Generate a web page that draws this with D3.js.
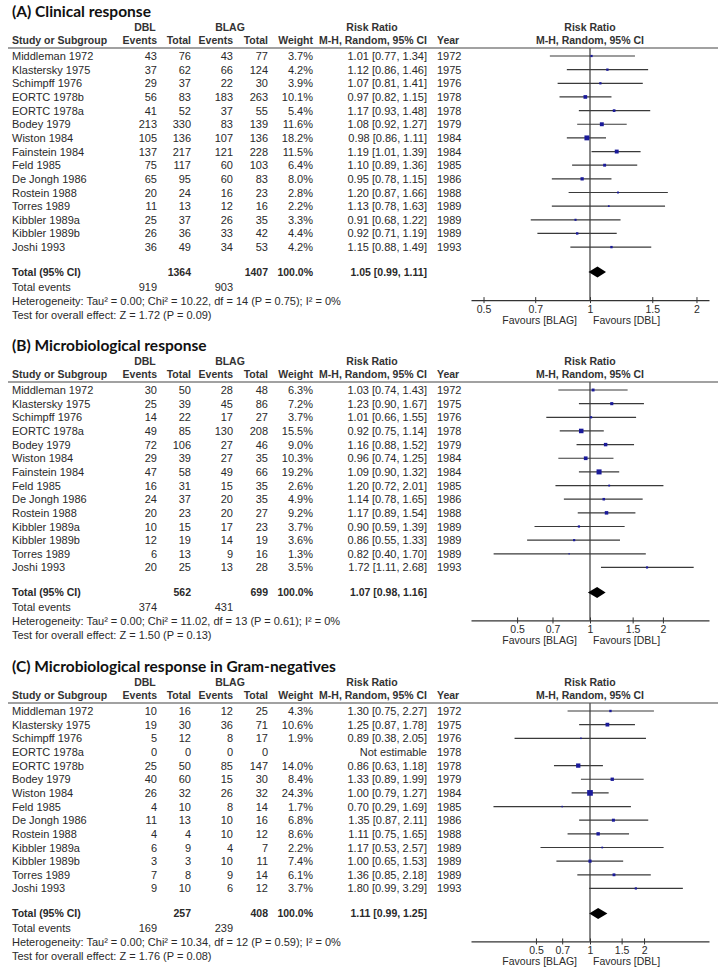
<!DOCTYPE html>
<html><head><meta charset="utf-8">
<script src="https://cdn.jsdelivr.net/npm/d3@7"></script>
<style>body{margin:0;background:#fff}svg{display:block}</style>
</head><body><svg id="c" width="720" height="975"></svg>
<script>
// ---------- Panel A: Clinical response ----------
const studiesA = ["Middleman 1972","Klastersky 1975","Schimpff 1976","EORTC 1978b","EORTC 1978a","Bodey 1979","Wiston 1984","Fainstein 1984","Feld 1985","De Jongh 1986","Rostein 1988","Torres 1989","Kibbler 1989a","Kibbler 1989b","Joshi 1993"];
const yearsA   = [1972,1975,1976,1978,1978,1979,1984,1984,1985,1986,1988,1989,1989,1989,1993];
const dblEvA   = [43,37,29,56,41,213,105,137,75,65,20,11,25,26,36];
const dblTotA  = [76,62,37,83,52,330,136,217,117,95,24,13,37,36,49];
const blagEvA  = [43,66,22,183,37,83,107,121,60,60,16,12,26,33,34];
const blagTotA = [77,124,30,263,55,139,136,228,103,83,23,16,35,42,53];
const weightA  = [3.7,4.2,3.9,10.1,5.4,11.6,18.2,11.5,6.4,8.0,2.8,2.2,3.3,4.4,4.2];
const rrA      = [1.01,1.12,1.07,0.97,1.17,1.08,0.98,1.19,1.10,0.95,1.20,1.13,0.91,0.92,1.15];
const loA      = [0.77,0.86,0.81,0.82,0.93,0.92,0.86,1.01,0.89,0.78,0.87,0.78,0.68,0.71,0.88];
const hiA      = [1.34,1.46,1.41,1.15,1.48,1.27,1.11,1.39,1.36,1.15,1.66,1.63,1.22,1.19,1.49];
const totalA   = {dblTot:1364, blagTot:1407, rr:1.05, lo:0.99, hi:1.11, dblEv:919, blagEv:903,
  het:"Heterogeneity: Tau² = 0.00; Chi² = 10.22, df = 14 (P = 0.75); I² = 0%", z:"Test for overall effect: Z = 1.72 (P = 0.09)"};
const axisMaxA = 2.17;

// ---------- Panel B: Microbiological response ----------
const studiesB = ["Middleman 1972","Klastersky 1975","Schimpff 1976","EORTC 1978a","Bodey 1979","Wiston 1984","Fainstein 1984","Feld 1985","De Jongh 1986","Rostein 1988","Kibbler 1989a","Kibbler 1989b","Torres 1989","Joshi 1993"];
const yearsB   = [1972,1975,1976,1978,1979,1984,1984,1985,1986,1988,1989,1989,1989,1993];
const dblEvB   = [30,25,14,49,72,29,47,16,24,20,10,12,6,20];
const dblTotB  = [50,39,22,85,106,39,58,31,37,23,15,19,13,25];
const blagEvB  = [28,45,17,130,27,27,49,15,20,20,17,14,9,13];
const blagTotB = [48,86,27,208,46,35,66,35,35,27,23,19,16,28];
const weightB  = [6.3,7.2,3.7,15.5,9.0,10.3,19.2,2.6,4.9,9.2,3.7,3.6,1.3,3.5];
const rrB      = [1.03,1.23,1.01,0.92,1.16,0.96,1.09,1.20,1.14,1.17,0.90,0.86,0.82,1.72];
const loB      = [0.74,0.90,0.66,0.75,0.88,0.74,0.90,0.72,0.78,0.89,0.59,0.55,0.40,1.11];
const hiB      = [1.43,1.67,1.55,1.14,1.52,1.25,1.32,2.01,1.65,1.54,1.39,1.33,1.70,2.68];
const totalB   = {dblTot:562, blagTot:699, rr:1.07, lo:0.98, hi:1.16, dblEv:374, blagEv:431,
  het:"Heterogeneity: Tau² = 0.00; Chi² = 11.02, df = 13 (P = 0.61); I² = 0%", z:"Test for overall effect: Z = 1.50 (P = 0.13)"};
const axisMaxB = 3.1;

// ---------- Panel C: Microbiological response in Gram-negatives ----------
const studiesC = ["Middleman 1972","Klastersky 1975","Schimpff 1976","EORTC 1978a","EORTC 1978b","Bodey 1979","Wiston 1984","Feld 1985","De Jongh 1986","Rostein 1988","Kibbler 1989a","Kibbler 1989b","Torres 1989","Joshi 1993"];
const yearsC   = [1972,1975,1976,1978,1978,1979,1984,1985,1986,1988,1989,1989,1989,1993];
const dblEvC   = [10,19,5,0,25,40,26,4,11,4,6,3,7,9];
const dblTotC  = [16,30,12,0,50,60,32,10,13,4,9,3,8,10];
const blagEvC  = [12,36,8,0,85,15,26,8,10,10,4,10,9,6];
const blagTotC = [25,71,17,0,147,30,32,14,16,12,7,11,14,12];
const weightC  = [4.3,10.6,1.9,null,14.0,8.4,24.3,1.7,6.8,8.6,2.2,7.4,6.1,3.7];
const rrC      = [1.30,1.25,0.89,null,0.86,1.33,1.00,0.70,1.35,1.11,1.17,1.00,1.36,1.80];
const loC      = [0.75,0.87,0.38,null,0.63,0.89,0.79,0.29,0.87,0.75,0.53,0.65,0.85,0.99];
const hiC      = [2.27,1.78,2.05,null,1.18,1.99,1.27,1.69,2.11,1.65,2.57,1.53,2.18,3.29];
const totalC   = {dblTot:257, blagTot:408, rr:1.11, lo:0.99, hi:1.25, dblEv:169, blagEv:239,
  het:"Heterogeneity: Tau² = 0.00; Chi² = 10.34, df = 12 (P = 0.59); I² = 0%", z:"Test for overall effect: Z = 1.76 (P = 0.08)"};
const axisMaxC = 4.6;

const tickValues = [0.5, 0.7, 1, 1.5, 2];
const tickLabels = ["0.5", "0.7", "1", "1.5", "2"];

const panels = [
  {title:"(A) Clinical response", base:48, studies:studiesA, years:yearsA, dblEv:dblEvA, dblTot:dblTotA, blagEv:blagEvA, blagTot:blagTotA, weight:weightA, rr:rrA, lo:loA, hi:hiA, total:totalA, axisMax:axisMaxA},
  {title:"(B) Microbiological response", base:382, studies:studiesB, years:yearsB, dblEv:dblEvB, dblTot:dblTotB, blagEv:blagEvB, blagTot:blagTotB, weight:weightB, rr:rrB, lo:loB, hi:hiB, total:totalB, axisMax:axisMaxB},
  {title:"(C) Microbiological response in Gram-negatives", base:703, studies:studiesC, years:yearsC, dblEv:dblEvC, dblTot:dblTotC, blagEv:blagEvC, blagTot:blagTotC, weight:weightC, rr:rrC, lo:loC, hi:hiC, total:totalC, axisMax:axisMaxC}
];

const svg = d3.select("#c");
const FONT = "'Liberation Sans', Arial, sans-serif";
const TXT = "#2a2a2a";
const col = {study:12, dblEv:157, dblTot:191, blagEv:233, blagTot:268, weight:313, rr:427, year:437};
const plotLeft = 471, plotRight = 709;
const rowStep = 13.65;

function text(g, x, y, s, opts={}) {
  return g.append("text").attr("x", x).attr("y", y).text(s)
    .attr("font-family", opts.family || FONT)
    .attr("font-size", opts.size || 11)
    .attr("font-weight", opts.bold ? 700 : 400)
    .attr("fill", opts.fill || TXT)
    .attr("text-anchor", opts.anchor || "start")
    .attr("dominant-baseline", "central");
}

panels.forEach(p => {
  const g = svg.append("g");
  const base = p.base;
  const n = p.studies.length;
  const rowY = i => base + 8 + i * rowStep;
  const totalY = rowY(n - 1) + 25;
  const axisY = totalY + 28;
  const x = d3.scaleLog().domain([1 / p.axisMax, p.axisMax]).range([plotLeft, plotRight]);

  // title
  text(g, 12, base - 37, p.title, {family:"Lato, 'Open Sans', sans-serif", size:15.5, bold:true, fill:"#111"});

  // headers
  const H1 = base - 21, H2 = base - 8;
  const hb = {bold:true, size:10.5, fill:"#333"};
  text(g, 145, H1, "DBL", {...hb, anchor:"middle"});
  text(g, 230, H1, "BLAG", {...hb, anchor:"middle"});
  text(g, 372, H1, "Risk Ratio", {...hb, anchor:"middle"});
  text(g, x(1), H1, "Risk Ratio", {...hb, anchor:"middle"});
  text(g, col.study, H2, "Study or Subgroup", hb);
  text(g, col.dblEv, H2, "Events", {...hb, anchor:"end"});
  text(g, col.dblTot, H2, "Total", {...hb, anchor:"end"});
  text(g, col.blagEv, H2, "Events", {...hb, anchor:"end"});
  text(g, col.blagTot, H2, "Total", {...hb, anchor:"end"});
  text(g, col.weight, H2, "Weight", {...hb, anchor:"end"});
  text(g, col.rr, H2, "M-H, Random, 95% CI", {...hb, anchor:"end"});
  text(g, col.year, H2, "Year", hb);
  text(g, x(1), H2, "M-H, Random, 95% CI", {...hb, anchor:"middle"});

  g.append("line").attr("x1", 8).attr("x2", 718).attr("y1", base).attr("y2", base)
    .attr("stroke", "#444").attr("stroke-width", 1.2);

  // vertical line of no effect
  g.append("line").attr("x1", x(1)).attr("x2", x(1)).attr("y1", base).attr("y2", axisY)
    .attr("stroke", "#555").attr("stroke-width", 1.4);

  // study rows
  p.studies.forEach((s, i) => {
    const y = rowY(i);
    text(g, col.study, y, s);
    text(g, col.dblEv, y, p.dblEv[i], {anchor:"end"});
    text(g, col.dblTot, y, p.dblTot[i], {anchor:"end"});
    text(g, col.blagEv, y, p.blagEv[i], {anchor:"end"});
    text(g, col.blagTot, y, p.blagTot[i], {anchor:"end"});
    if (p.weight[i] != null) text(g, col.weight, y, p.weight[i].toFixed(1) + "%", {anchor:"end"});
    if (p.rr[i] != null) {
      text(g, col.rr, y, `${p.rr[i].toFixed(2)} [${p.lo[i].toFixed(2)}, ${p.hi[i].toFixed(2)}]`, {anchor:"end"});
      g.append("line").attr("x1", x(p.lo[i])).attr("x2", x(p.hi[i])).attr("y1", y).attr("y2", y)
        .attr("stroke", "#3a3a3a").attr("stroke-width", 1.2);
      const side = 1.15 * Math.sqrt(p.weight[i]);
      g.append("rect").attr("x", x(p.rr[i]) - side / 2).attr("y", y - side / 2)
        .attr("width", side).attr("height", side).attr("fill", "#1a1a9a");
    } else {
      text(g, col.rr, y, "Not estimable", {anchor:"end"});
    }
    text(g, col.year, y, p.years[i]);
  });

  // total row
  const t = p.total;
  text(g, col.study, totalY, "Total (95% CI)", {bold:true, size:10.5});
  text(g, col.dblTot, totalY, t.dblTot, {bold:true, size:10.5, anchor:"end"});
  text(g, col.blagTot, totalY, t.blagTot, {bold:true, size:10.5, anchor:"end"});
  text(g, col.weight, totalY, "100.0%", {bold:true, size:10.5, anchor:"end"});
  text(g, col.rr, totalY, `${t.rr.toFixed(2)} [${t.lo.toFixed(2)}, ${t.hi.toFixed(2)}]`, {bold:true, size:10.5, anchor:"end"});
  g.append("path")
    .attr("d", `M${x(t.lo)},${totalY}L${x(t.rr)},${totalY - 5.5}L${x(t.hi)},${totalY}L${x(t.rr)},${totalY + 5.5}Z`)
    .attr("fill", "#000");

  const evY = totalY + 15;
  text(g, col.study, evY, "Total events");
  text(g, col.dblEv, evY, t.dblEv, {anchor:"end"});
  text(g, col.blagEv, evY, t.blagEv, {anchor:"end"});
  text(g, col.study, evY + 14, t.het);
  text(g, col.study, evY + 28, t.z);

  // axis
  const ax = g.append("g").attr("transform", `translate(0,${axisY})`)
    .call(d3.axisBottom(x).tickValues(tickValues).tickFormat((d, i) => tickLabels[i]).tickSizeOuter(0).tickSizeInner(3));
  ax.select(".domain").attr("stroke", "#333").attr("stroke-width", 1.2);
  ax.selectAll(".tick line").attr("y1", -3).attr("y2", 3).attr("stroke", "#333");
  ax.selectAll(".tick text").attr("y", 9).attr("dy", null).attr("dominant-baseline", "central")
    .attr("font-family", FONT).attr("font-size", 10.5).attr("fill", TXT);

  text(g, x(1) - 13, axisY + 20, "Favours [BLAG]", {anchor:"end", size:10.5});
  text(g, x(1) + 3, axisY + 20, "Favours [DBL]", {size:10.5});
});
</script></body></html>
